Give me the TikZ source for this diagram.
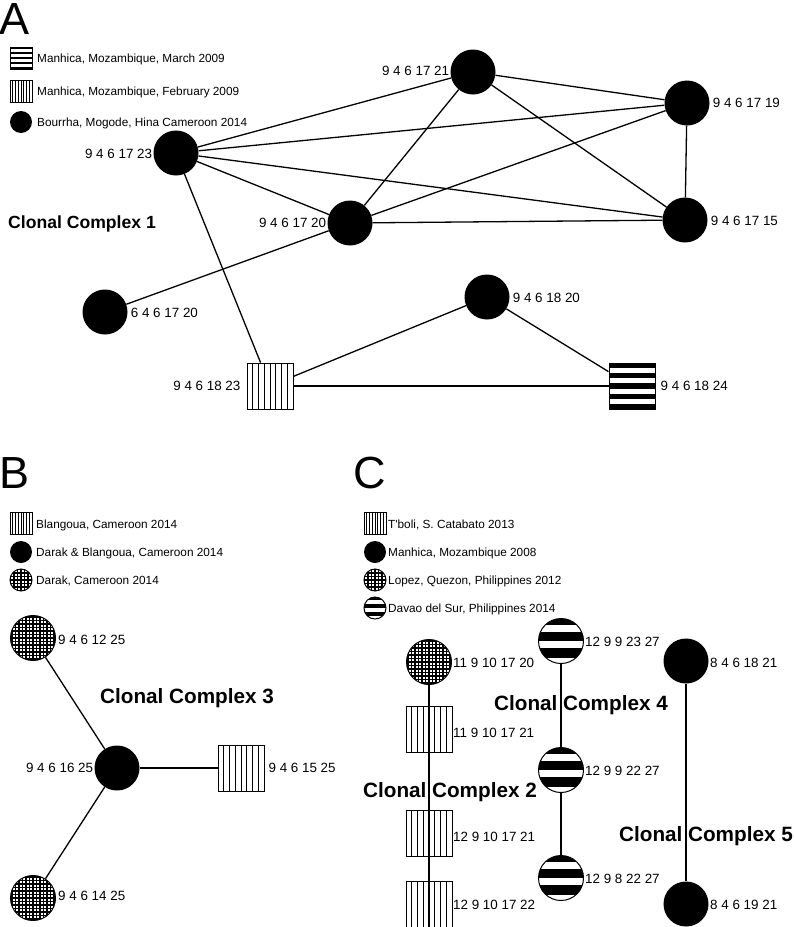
\documentclass[tikz,border=0pt]{standalone}
\usepackage{fontspec}
\setmainfont{Liberation Sans}[Ligatures=TeXOff]
\usetikzlibrary{calc}
\tikzset{
  edge/.style={line width=1.3pt},
  lab/.style={inner sep=0pt, font=\fontsize{13.4}{16}\selectfont},
  leg/.style={inner sep=0pt, anchor=west, font=\fontsize{11.8}{14}\selectfont},
  cc/.style={inner sep=0pt, font=\fontsize{17.6}{20}\selectfont\bfseries},
  ccbig/.style={inner sep=0pt, font=\fontsize{20.7}{24}\selectfont\bfseries},
  big/.style={inner sep=0pt, font=\fontsize{45}{50}\selectfont},
  blk/.style={circle, fill=black, inner sep=0pt, minimum size=#1},
  blk/.default=45pt,
  vsq/.style={rectangle, draw, fill=white, line width=0.8pt, inner sep=0pt, minimum size=#1,
    path picture={\foreach \i in {1,...,7}{\draw[black, line width=0.6pt]
      ($(path picture bounding box.north west)!\i/8!(path picture bounding box.north east)$) --
      ($(path picture bounding box.south west)!\i/8!(path picture bounding box.south east)$);}}},
  vsq/.default=46pt,
  hsq/.style={rectangle, draw, fill=white, line width=1pt, inner sep=0pt, minimum size=#1,
    path picture={\foreach \ya/\yb in {0/0.111,0.222/0.333,0.444/0.556,0.667/0.778,0.889/1}{\fill[black]
      ($(path picture bounding box.north west)!\ya!(path picture bounding box.south west)$) rectangle
      ($(path picture bounding box.north east)!\yb!(path picture bounding box.south east)$);}}},
  hsq/.default=46pt,
  gridc/.style={circle, draw, fill=white, line width=1pt, inner sep=0pt, minimum size=#1,
    path picture={\begin{scope}[shift={(path picture bounding box.center)}]
      \foreach \t in {-28,-24.5,...,28.5}{\draw[black, line width=1.15pt] (\t*1pt,-30pt) -- (\t*1pt,30pt) (-30pt,\t*1pt) -- (30pt,\t*1pt);}
      \end{scope}}},
  gridc/.default=45pt,
  strc/.style={circle, draw, fill=white, line width=1pt, inner sep=0pt, minimum size=#1,
    path picture={\foreach \ya/\yb in {0/0.15,0.3/0.49,0.66/0.87}{\fill[black]
      ($(path picture bounding box.north west)!\ya!(path picture bounding box.south west)$) rectangle
      ($(path picture bounding box.north east)!\yb!(path picture bounding box.south east)$);}}},
  strc/.default=45pt
}
\begin{document}
\begin{tikzpicture}[x=1pt,y=-1pt]
\useasboundingbox[fill=white] (0,0) rectangle (794,927);

% ---------------- Panel A ----------------
\node[big] (lA) at (15,19) {A};
\node[hsq=22pt] (lgA1) at (21,58) {};
\node[leg] (lgA1t) at (37,59) {Manhica, Mozambique, March 2009};
\node[vsq=22pt] (lgA2) at (21,91) {};
\node[leg] (lgA2t) at (37,92) {Manhica, Mozambique, February 2009};
\node[blk=22pt] (lgA3) at (21,122) {};
\node[leg] (lgA3t) at (37,123) {Bourrha, Mogode, Hina Cameroon 2014};

\node[blk] (n1) at (473,72) {};
\node[blk] (n2) at (687,103) {};
\node[blk] (n3) at (176,153) {};
\node[blk] (n4) at (350,223) {};
\node[blk] (n5) at (685,220) {};
\node[blk] (n6) at (105,312) {};
\node[blk] (n7) at (487,297) {};
\node[vsq] (s1) at (270,386) {};
\node[hsq] (s2) at (632,386) {};

\node[lab, anchor=east] (n1t) at ([xshift=-1pt,yshift=1pt]n1.west) {9 4 6 17 21};
\node[lab, anchor=west] (n2t) at ([xshift=3pt]n2.east) {9 4 6 17 19};
\node[lab, anchor=east] (n3t) at ([xshift=-1pt,yshift=-1pt]n3.west) {9 4 6 17 23};
\node[lab, anchor=east] (n4t) at ([xshift=-1pt]n4.west) {9 4 6 17 20};
\node[lab, anchor=west] (n5t) at ([xshift=3pt,yshift=-1pt]n5.east) {9 4 6 17 15};
\node[lab, anchor=west] (n6t) at ([xshift=3pt,yshift=-1pt]n6.east) {6 4 6 17 20};
\node[lab, anchor=west] (n7t) at ([xshift=3pt,yshift=-1pt]n7.east) {9 4 6 18 20};
\node[lab, anchor=east] (s1t) at ([xshift=-6pt]s1.west) {9 4 6 18 23};
\node[lab, anchor=west] (s2t) at ([xshift=5pt]s2.east) {9 4 6 18 24};
\node[cc, anchor=west] (cc1) at (8,224) {Clonal Complex 1};

\draw[edge] (n3) -- (n1);
\draw[edge] (n3) -- (n2);
\draw[edge] (n3) -- (n5);
\draw[edge] (n3) -- (n4);
\draw[edge] (n3) -- (s1);
\draw[edge] (n1) -- (n4);
\draw[edge] (n1) -- (n2);
\draw[edge] (n1) -- (n5);
\draw[edge] (n2) -- (n5);
\draw[edge] (n2) -- (n4);
\draw[edge] (n4) -- (n5);
\draw[edge] (n4) -- (n6);
\draw[edge] (n7) -- (s1);
\draw[edge] (n7) -- (s2);
\draw[edge] (s1) -- (s2);

% ---------------- Panel B ----------------
\node[big] (lB) at (15,473) {B};
\node[vsq=22pt] (lgB1) at (21,523) {};
\node[leg] (lgB1t) at (36,525) {Blangoua, Cameroon 2014};
\node[blk=22pt] (lgB2) at (21,552) {};
\node[leg] (lgB2t) at (36,553) {Darak \& Blangoua, Cameroon 2014};
\node[gridc=22pt] (lgB3) at (21,580) {};
\node[leg] (lgB3t) at (36,581) {Darak, Cameroon 2014};

\node[gridc] (b1) at (33,638) {};
\node[blk] (b2) at (117,768) {};
\node[vsq] (b3) at (241,768) {};
\node[gridc] (b4) at (33,898) {};
\node[lab, anchor=west] (b1t) at ([xshift=2pt,yshift=-2pt]b1.east) {9 4 6 12 25};
\node[lab, anchor=east] (b2t) at ([xshift=-1pt]b2.west) {9 4 6 16 25};
\node[lab, anchor=west] (b3t) at ([xshift=4pt]b3.east) {9 4 6 15 25};
\node[lab, anchor=west] (b4t) at ([xshift=2pt,yshift=2pt]b4.east) {9 4 6 14 25};
\node[ccbig, anchor=west] (cc3) at (100,698) {Clonal Complex 3};

\draw[edge] (b2) -- (b1);
\draw[edge] (b2) -- (b3);
\draw[edge] (b2) -- (b4);

% ---------------- Panel C ----------------
\node[big] (lC) at (370,473) {C};
\node[vsq=22pt] (lgC1) at (375,523) {};
\node[leg] (lgC1t) at (388,525) {T'boli, S. Catabato 2013};
\node[blk=22pt] (lgC2) at (375,552) {};
\node[leg] (lgC2t) at (388,553) {Manhica, Mozambique 2008};
\node[gridc=22pt] (lgC3) at (375,580) {};
\node[leg] (lgC3t) at (388,581) {Lopez, Quezon, Philippines 2012};
\node[strc=22pt] (lgC4) at (375,608) {};
\node[leg] (lgC4t) at (388,609) {Davao del Sur, Philippines 2014};

\node[gridc] (c1) at (429,662) {};
\node[vsq] (c2) at (429,729) {};
\node[vsq] (c3) at (429,833) {};
\node[vsq] (c4) at (429,904) {};
\node[strc] (c5) at (561,641) {};
\node[strc] (c6) at (561,770) {};
\node[strc] (c7) at (561,878) {};
\node[blk] (c8) at (686,661) {};
\node[blk] (c9) at (686,904) {};

\node[lab, anchor=west] (c1t) at (453,663) {11 9 10 17 20};
\node[lab, anchor=west] (c2t) at (453,733) {11 9 10 17 21};
\node[lab, anchor=west] (c3t) at (453,837) {12 9 10 17 21};
\node[lab, anchor=west] (c4t) at (453,905) {12 9 10 17 22};
\node[lab, anchor=west] (c5t) at (585,642) {12 9 9 23 27};
\node[lab, anchor=west] (c6t) at (585,771) {12 9 9 22 27};
\node[lab, anchor=west] (c7t) at (585,879) {12 9 8 22 27};
\node[lab, anchor=west] (c8t) at (710,663) {8 4 6 18 21};
\node[lab, anchor=west] (c9t) at (710,905) {8 4 6 19 21};
\node[ccbig] (cc2) at (450,792) {Clonal Complex 2};
\node[ccbig] (cc4) at (581,705) {Clonal Complex 4};
\node[ccbig] (cc5) at (706,836) {Clonal Complex 5};

\draw[edge] (c1.south) -- (c4.south);
\draw[edge] (c5) -- (c6);
\draw[edge] (c6) -- (c7);
\draw[edge] (c8) -- (c9);
\end{tikzpicture}
\end{document}
